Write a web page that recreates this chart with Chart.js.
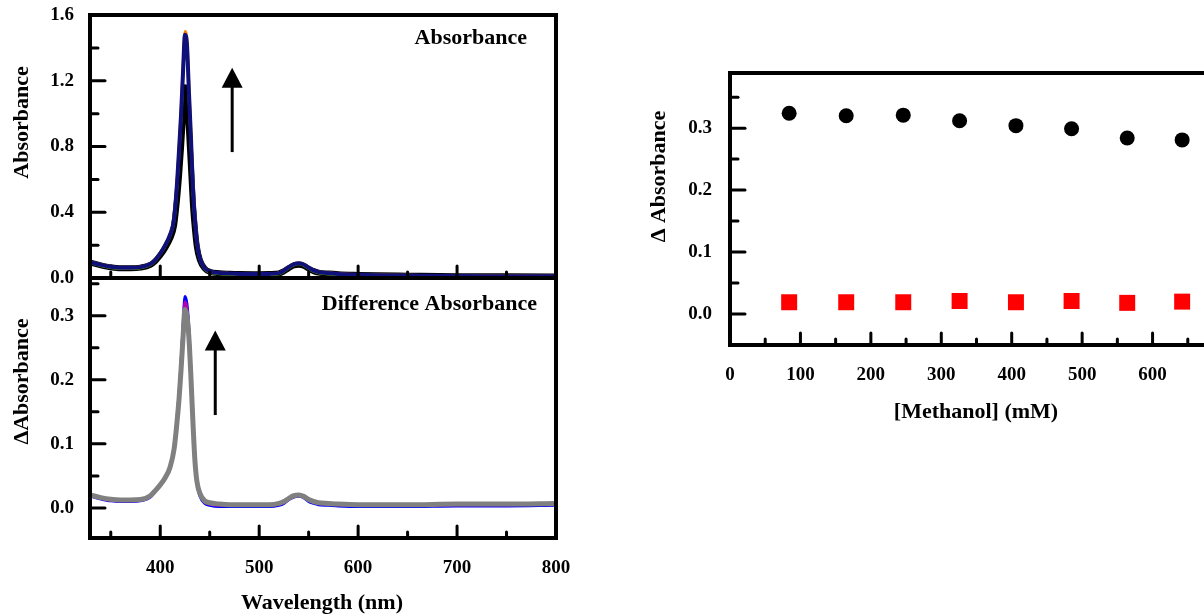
<!DOCTYPE html>
<html>
<head>
<meta charset="utf-8">
<script src="https://cdn.jsdelivr.net/npm/chart.js@4.4.1/dist/chart.umd.min.js"></script>
<style>
  html, body { margin: 0; padding: 0; overflow: hidden; background: #fff; width: 1204px; height: 615px; }
  canvas { position: absolute; }
  #absChart { left: 0; top: 0; }
  #diffChart { left: 0; top: 260px; }
  #methChart { left: 600px; top: 40px; }
</style>
</head>
<body>
<canvas id="absChart" width="600" height="290"></canvas>
<canvas id="diffChart" width="600" height="355"></canvas>
<canvas id="methChart" width="640" height="420"></canvas>
<script>
// spectra (nm)
const wavelengths = [330, 340, 350, 360, 370, 380, 390, 395,
    400, 405, 410, 414, 417, 419, 421, 423,
    425, 427, 429, 431, 433, 435, 437, 440,
    445, 450, 460, 470, 480, 500, 510, 520,
    525, 530, 535, 540, 545, 550, 555, 560,
    570, 580, 600, 620, 650, 700, 750, 800];

const absNavy = [0.095, 0.080, 0.068, 0.062, 0.062, 0.066, 0.085, 0.110,
    0.150, 0.200, 0.265, 0.360, 0.580, 0.780, 0.990, 1.250,
    1.480, 1.420, 1.130, 0.860, 0.550, 0.360, 0.220, 0.120,
    0.060, 0.040, 0.030, 0.027, 0.025, 0.024, 0.025, 0.030,
    0.045, 0.066, 0.084, 0.090, 0.082, 0.063, 0.046, 0.036,
    0.029, 0.025, 0.020, 0.017, 0.015, 0.012, 0.011, 0.010];
const absBlack = [0.092, 0.077, 0.065, 0.059, 0.059, 0.063, 0.080, 0.103,
    0.138, 0.183, 0.240, 0.320, 0.480, 0.620, 0.790, 0.990,
    1.160, 1.110, 0.900, 0.680, 0.450, 0.300, 0.190, 0.110,
    0.057, 0.038, 0.029, 0.026, 0.024, 0.023, 0.024, 0.028,
    0.041, 0.060, 0.076, 0.081, 0.074, 0.057, 0.042, 0.033,
    0.027, 0.023, 0.019, 0.016, 0.014, 0.011, 0.010, 0.009];
const absOrange = [0.096, 0.081, 0.069, 0.063, 0.063, 0.067, 0.086, 0.112,
    0.152, 0.203, 0.268, 0.365, 0.590, 0.790, 1.000, 1.270,
    1.500, 1.440, 1.150, 0.870, 0.560, 0.365, 0.224, 0.122,
    0.061, 0.041, 0.031, 0.028, 0.026, 0.025, 0.026, 0.031,
    0.046, 0.067, 0.085, 0.091, 0.083, 0.064, 0.047, 0.037,
    0.030, 0.026, 0.021, 0.018, 0.016, 0.013, 0.012, 0.011];
const absGreen = [0.091, 0.076, 0.064, 0.058, 0.058, 0.062, 0.081, 0.106,
    0.146, 0.196, 0.260, 0.355, 0.570, 0.770, 0.980, 1.240,
    1.470, 1.410, 1.120, 0.850, 0.545, 0.355, 0.216, 0.116,
    0.056, 0.036, 0.026, 0.023, 0.021, 0.020, 0.021, 0.026,
    0.041, 0.062, 0.080, 0.086, 0.078, 0.059, 0.042, 0.032,
    0.025, 0.021, 0.016, 0.013, 0.011, 0.008, 0.007, 0.006];

const diffGray = [0.020, 0.016, 0.0135, 0.0125, 0.0125, 0.013, 0.019, 0.027,
    0.036, 0.047, 0.064, 0.092, 0.135, 0.170, 0.215, 0.265,
    0.310, 0.300, 0.265, 0.205, 0.135, 0.075, 0.042, 0.023,
    0.011, 0.008, 0.006, 0.005, 0.005, 0.005, 0.005, 0.007,
    0.010, 0.015, 0.019, 0.020, 0.018, 0.013, 0.010, 0.008,
    0.007, 0.006, 0.005, 0.005, 0.005, 0.006, 0.006, 0.007];
const diffBlue = [0.018, 0.014, 0.011, 0.010, 0.010, 0.011, 0.017, 0.026,
    0.035, 0.046, 0.064, 0.094, 0.140, 0.178, 0.226, 0.282,
    0.330, 0.318, 0.278, 0.212, 0.136, 0.073, 0.039, 0.019,
    0.007, 0.004, 0.002, 0.002, 0.002, 0.002, 0.002, 0.004,
    0.007, 0.013, 0.017, 0.018, 0.016, 0.010, 0.007, 0.005,
    0.004, 0.003, 0.002, 0.002, 0.002, 0.003, 0.003, 0.004];
const diffMagenta = [0.019, 0.015, 0.012, 0.011, 0.011, 0.012, 0.018, 0.027,
    0.036, 0.047, 0.065, 0.094, 0.138, 0.175, 0.222, 0.276,
    0.322, 0.311, 0.273, 0.210, 0.137, 0.075, 0.041, 0.021,
    0.009, 0.006, 0.004, 0.004, 0.004, 0.004, 0.004, 0.006,
    0.009, 0.014, 0.018, 0.019, 0.017, 0.012, 0.009, 0.007,
    0.006, 0.005, 0.004, 0.004, 0.004, 0.005, 0.005, 0.006];
const diffGreen = [0.019, 0.015, 0.012, 0.011, 0.011, 0.012, 0.017, 0.025,
    0.034, 0.045, 0.062, 0.090, 0.132, 0.167, 0.212, 0.262,
    0.308, 0.298, 0.262, 0.202, 0.132, 0.072, 0.040, 0.021,
    0.009, 0.006, 0.004, 0.004, 0.004, 0.004, 0.004, 0.006,
    0.009, 0.014, 0.018, 0.019, 0.017, 0.012, 0.009, 0.007,
    0.006, 0.005, 0.004, 0.004, 0.004, 0.005, 0.005, 0.006];

// methanol titration
const methanolConc = [84, 165, 246, 326, 406, 485, 564, 642];
const dAbsSoret = [0.324, 0.320, 0.321, 0.312, 0.304, 0.299, 0.284, 0.281];
const dAbsQ = [0.019, 0.019, 0.019, 0.021, 0.019, 0.021, 0.018, 0.020];

// tick labels
const absTicks = [0, 0.4, 0.8, 1.2, 1.6];
const diffTicks = [0, 0.1, 0.2, 0.3];
const wlTicks = [400, 500, 600, 700, 800];
const methTicks = [0, 100, 200, 300, 400, 500, 600, 700];

const FONT = '"Liberation Serif", "Times New Roman", serif';
Chart.defaults.font.family = FONT;
Chart.defaults.font.weight = 'bold';
Chart.defaults.font.size = 19;
Chart.defaults.color = '#000';

const toPoints = (ys) => wavelengths.map((x, i) => ({x: x, y: ys[i]}));

// frame, inward ticks, arrows and the texts
const decor = {
    id: 'decor',
    afterDatasetsDraw(chart, args, o) {
        const ctx = chart.ctx;
        const a = chart.chartArea;
        const x = chart.scales.x, y = chart.scales.y;
        ctx.save();
        ctx.strokeStyle = '#000';
        ctx.fillStyle = '#000';
        ctx.lineWidth = 3;
        ctx.lineCap = 'round';
        for (let k = Math.ceil(x.min / o.xStep + 1e-6); k <= Math.floor(x.max / o.xStep - 1e-6); k++) {
            const px = x.getPixelForValue(k * o.xStep);
            const len = k % 2 === 0 ? 12 : 6;
            ctx.beginPath();
            ctx.moveTo(px, a.bottom);
            ctx.lineTo(px, a.bottom - len);
            ctx.stroke();
        }
        for (let k = Math.ceil(y.min / o.yStep + 1e-6); k <= Math.floor(y.max / o.yStep - 1e-6); k++) {
            const py = y.getPixelForValue(k * o.yStep);
            const len = k % 2 === 0 ? 15 : 8;
            ctx.beginPath();
            ctx.moveTo(a.left, py);
            ctx.lineTo(a.left + len, py);
            ctx.stroke();
        }
        ctx.lineCap = 'butt';
        ctx.lineWidth = 4;
        ctx.strokeRect(a.left, a.top, a.right - a.left, a.bottom - a.top);

        (o.arrows || []).forEach(ar => {
            const px = x.getPixelForValue(ar.x);
            const pBase = y.getPixelForValue(ar.y0);
            const pTip = y.getPixelForValue(ar.y1);
            ctx.lineWidth = 3;
            ctx.beginPath();
            ctx.moveTo(px, pBase);
            ctx.lineTo(px, pTip + 18);
            ctx.stroke();
            ctx.beginPath();
            ctx.moveTo(px, pTip);
            ctx.lineTo(px - 10.5, pTip + 20);
            ctx.lineTo(px + 10.5, pTip + 20);
            ctx.closePath();
            ctx.fill();
        });

        ctx.font = 'bold 22px ' + FONT;
        (o.texts || []).forEach(t => {
            ctx.save();
            ctx.translate(t.x, t.y);
            if (t.rot) ctx.rotate(-Math.PI / 2);
            ctx.textAlign = t.align || 'center';
            ctx.textBaseline = t.base || 'middle';
            ctx.fillText(t.text, 0, 0);
            ctx.restore();
        });
        ctx.restore();
    }
};

const baseOptions = {
    responsive: false,
    animation: false,
    devicePixelRatio: 1,
    events: [],
    plugins: {legend: {display: false}, tooltip: {enabled: false}}
};

// keep tick labels from pushing the plot area around
const fitY = (w) => (s) => { s.width = w; s.paddingTop = 0; s.paddingBottom = 0; };
const fitX = (h) => (s) => { s.height = h; s.paddingLeft = 0; s.paddingRight = 0; };

function line(data, color, width) {
    return {
        data: toPoints(data),
        borderColor: color,
        borderWidth: width,
        pointRadius: 0,
        cubicInterpolationMode: 'monotone',
        fill: false
    };
}

new Chart(document.getElementById('absChart'), {
    type: 'line',
    data: {
        datasets: [
            line(absNavy, '#10107a', 4),
            line(absOrange, '#ff8000', 3),
            line(absGreen, '#66cc00', 3),
            line(absBlack, '#000000', 6)
        ]
    },
    options: {
        ...baseOptions,
        layout: {padding: {left: 0, top: 15, right: 44, bottom: 12}},
        scales: {
            x: {type: 'linear', min: 329, max: 800, display: false},
            y: {
                min: 0, max: 1.6,
                grid: {display: false, drawTicks: false},
                border: {display: false},
                afterBuildTicks: s => { s.ticks = absTicks.map(v => ({value: v})); },
                afterFit: fitY(90),
                ticks: {padding: 16, callback: v => v.toFixed(1)}
            }
        },
        plugins: {
            ...baseOptions.plugins,
            decor: {
                xStep: 50, yStep: 0.2,
                arrows: [{x: 472.7, y0: 0.766, y1: 1.279}],
                texts: [
                    {text: 'Absorbance', x: 22.5, y: 122.5, rot: true},
                    {text: 'Absorbance', x: 527, y: 44, align: 'right', base: 'alphabetic'}
                ]
            }
        }
    },
    plugins: [decor]
});

new Chart(document.getElementById('diffChart'), {
    type: 'line',
    data: {
        datasets: [
            line(diffGray, '#808080', 5),
            line(diffMagenta, '#b000b0', 3),
            line(diffBlue, '#0000ff', 3),
            line(diffGreen, '#55cc00', 2)
        ]
    },
    options: {
        ...baseOptions,
        layout: {padding: {left: 0, top: 18, right: 44, bottom: 0}},
        scales: {
            x: {
                type: 'linear', min: 329, max: 800,
                grid: {display: false, drawTicks: false},
                border: {display: false},
                afterBuildTicks: s => { s.ticks = wlTicks.map(v => ({value: v})); },
                afterFit: fitX(77),
                ticks: {padding: 19}
            },
            y: {
                min: -0.047, max: 0.359,
                grid: {display: false, drawTicks: false},
                border: {display: false},
                afterBuildTicks: s => { s.ticks = diffTicks.map(v => ({value: v})); },
                afterFit: fitY(90),
                ticks: {padding: 16, callback: v => v.toFixed(1)}
            }
        },
        plugins: {
            ...baseOptions.plugins,
            decor: {
                xStep: 50, yStep: 0.05,
                arrows: [{x: 455.6, y0: 0.145, y1: 0.277}],
                texts: [
                    {text: '\u0394Absorbance', x: 22, y: 121.5, rot: true},
                    {text: 'Difference Absorbance', x: 537, y: 50, align: 'right', base: 'alphabetic'},
                    {text: 'Wavelength (nm)', x: 322, y: 343}
                ]
            }
        }
    },
    plugins: [decor]
});

new Chart(document.getElementById('methChart'), {
    type: 'scatter',
    data: {
        datasets: [
            {
                data: methanolConc.map((x, i) => ({x: x, y: dAbsSoret[i]})),
                pointStyle: 'circle', pointRadius: 7.5,
                backgroundColor: '#000', borderWidth: 0
            },
            {
                data: methanolConc.map((x, i) => ({x: x, y: dAbsQ[i]})),
                pointStyle: 'rect', pointRadius: 11.3,
                backgroundColor: '#ff0000', borderWidth: 0
            }
        ]
    },
    options: {
        ...baseOptions,
        layout: {padding: {left: 0, top: 33, right: 17, bottom: 0}},
        scales: {
            x: {
                type: 'linear', min: 0, max: 700,
                grid: {display: false, drawTicks: false},
                border: {display: false},
                afterBuildTicks: s => { s.ticks = methTicks.map(v => ({value: v})); },
                afterFit: fitX(115),
                ticks: {padding: 19}
            },
            y: {
                min: -0.05, max: 0.389,
                grid: {display: false, drawTicks: false},
                border: {display: false},
                afterBuildTicks: s => { s.ticks = diffTicks.map(v => ({value: v})); },
                afterFit: fitY(130),
                ticks: {padding: 18, callback: v => v.toFixed(1)}
            }
        },
        plugins: {
            ...baseOptions.plugins,
            decor: {
                xStep: 50, yStep: 0.05,
                texts: [
                    {text: '\u0394 Absorbance', x: 59, y: 136.5, rot: true},
                    {text: '[Methanol] (mM)', x: 376, y: 372}
                ]
            }
        }
    },
    plugins: [decor]
});
</script>
</body>
</html>
